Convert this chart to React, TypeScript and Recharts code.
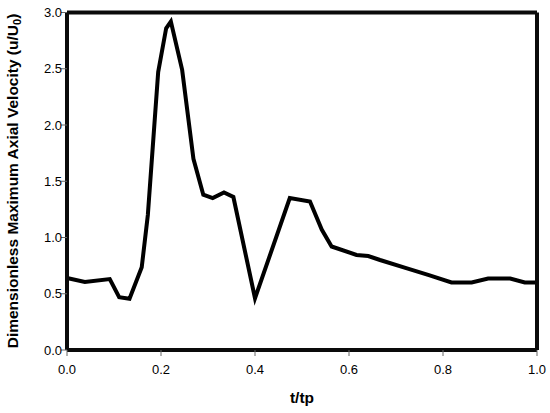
import React from "react";
import { LineChart, Line, XAxis, YAxis, ReferenceLine } from "recharts";

const tValues = [0, 0.038, 0.091, 0.111, 0.133, 0.159, 0.172, 0.194, 0.211, 0.221, 0.245, 0.269, 0.29, 0.31, 0.334, 0.354, 0.4, 0.474, 0.517, 0.542, 0.563, 0.616, 0.641, 0.666, 0.72, 0.77, 0.818, 0.861, 0.896, 0.943, 0.974, 1.0];
const velocity = [0.64, 0.605, 0.63, 0.47, 0.455, 0.735, 1.2, 2.47, 2.86, 2.92, 2.49, 1.7, 1.38, 1.35, 1.4, 1.36, 0.46, 1.35, 1.32, 1.07, 0.92, 0.845, 0.835, 0.8, 0.73, 0.665, 0.6, 0.6, 0.635, 0.635, 0.6, 0.6];
const xTicks = [0, 0.2, 0.4, 0.6, 0.8, 1.0];
const yTicks = [0, 0.5, 1.0, 1.5, 2.0, 2.5, 3.0];
const xTitle = "t/tp";
const yTitle = "Dimensionless Maximum Axial Velocity (u/U";

const data = tValues.map((t, i) => ({ t, v: velocity[i] }));

const FONT = "'Liberation Sans', Arial, Helvetica, sans-serif";
const FRAME = "#0a0a0a";
const titleStyle: React.CSSProperties = {
  position: "absolute",
  fontFamily: FONT,
  fontWeight: "bold",
  fontSize: 15.5,
  color: "#000",
  whiteSpace: "nowrap",
  lineHeight: 1,
};

const XTick = (props: any) => {
  const { x, y, payload } = props;
  return (
    <text x={x} y={y + 7} dy="0.71em" textAnchor="middle" fill="#000" fontSize={13} fontFamily={FONT}>
      {Number(payload.value).toFixed(1)}
    </text>
  );
};

const YTick = (props: any) => {
  const { x, y, payload } = props;
  return (
    <text x={x + 3} y={y} dy="0.355em" textAnchor="end" fill="#000" fontSize={13} fontFamily={FONT}>
      {Number(payload.value).toFixed(1)}
    </text>
  );
};

export default function App() {
  return (
    <div style={{ position: "absolute", left: 0, top: 0, width: 550, height: 413, background: "#fff" }}>
      <LineChart width={550} height={413} data={data} margin={{ top: 12.5, right: 13, bottom: 0, left: 0 }}>
        <XAxis
          dataKey="t"
          type="number"
          domain={[0, 1]}
          ticks={xTicks}
          height={63}
          axisLine={{ stroke: FRAME, strokeWidth: 4 }}
          tick={<XTick />}
        />
        <YAxis
          type="number"
          domain={[0, 3]}
          ticks={yTicks}
          width={67}
          axisLine={{ stroke: FRAME, strokeWidth: 4 }}
          tick={<YTick />}
        />
        <Line type="linear" dataKey="v" stroke="#000" strokeWidth={4} dot={false} isAnimationActive={false} />
        <ReferenceLine y={3} stroke={FRAME} strokeWidth={4} />
        <ReferenceLine x={1} stroke={FRAME} strokeWidth={4} />
      </LineChart>
      <div style={{ ...titleStyle, left: 302, top: 398, transform: "translate(-50%, -50%)" }}>{xTitle}</div>
      <div style={{ ...titleStyle, left: 12.5, top: 181, transform: "translate(-50%, -50%) rotate(-90deg)" }}>
        {yTitle}
        <sub style={{ fontSize: 11, verticalAlign: "-3px", lineHeight: 0 }}>0</sub>)
      </div>
    </div>
  );
}
